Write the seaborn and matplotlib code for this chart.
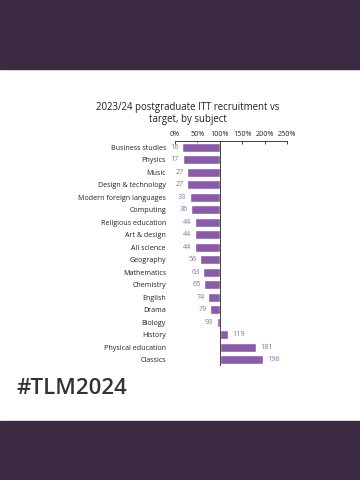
import matplotlib
matplotlib.use("Agg")
import matplotlib.pyplot as plt
from matplotlib.patches import Rectangle
import seaborn as sns
import pandas as pd

subjects = [
    "Business studies", "Physics", "Music", "Design & technology",
    "Modern foreign languages", "Computing", "Religious education",
    "Art & design", "All science", "Geography", "Mathematics", "Chemistry",
    "English", "Drama", "Biology", "History", "Physical education", "Classics",
]
recruitment_pct = [16, 17, 27, 27, 33, 36, 44, 44, 44, 56, 63, 65, 74, 79, 93, 119, 181, 196]
tick_values = [0, 50, 100, 150, 200, 250]
tick_labels = ["0%", "50%", "100%", "150%", "200%", "250%"]

TARGET = 100
BAND = "#3b2a42"
BAR = "#8a5aab"
VALUE_COLOR = "#8a6fa6"
TEXT = "#222222"

sns.set_style("white")
plt.rcParams["font.family"] = ["Open Sans", "DejaVu Sans"]

df = pd.DataFrame({"subject": subjects, "pct": recruitment_pct})
df["gap"] = df["pct"] - TARGET

fig = plt.figure(figsize=(3.6, 4.8), dpi=100)
fig.patch.set_facecolor("white")
fig.patches.append(Rectangle((0, 0.856), 1, 0.144, transform=fig.transFigure,
                             color=BAND, zorder=0))
fig.patches.append(Rectangle((0, 0), 1, 0.123, transform=fig.transFigure,
                             color=BAND, zorder=0))

ax = fig.add_axes([0.486, 0.2375, 0.311, 0.469])
sns.barplot(data=df, x="gap", y="subject", orient="h", color=BAR,
            width=0.72, saturation=1, ax=ax)

ax.set_xlim(tick_values[0] - TARGET, tick_values[-1] - TARGET)
ax.set_xticks([t - TARGET for t in tick_values])
ax.set_xticklabels(tick_labels)
ax.xaxis.tick_top()
ax.tick_params(axis="x", direction="in", length=2.5, width=0.6, pad=2,
               labelsize=5.2, colors=TEXT)
ax.tick_params(axis="y", length=0, pad=6.5, labelsize=5.1, labelcolor=TEXT)
ax.set_xlabel("")
ax.set_ylabel("")

for side in ["left", "right", "bottom"]:
    ax.spines[side].set_visible(False)
ax.spines["top"].set_color(TEXT)
ax.spines["top"].set_linewidth(0.6)
ax.axvline(0, color=TEXT, linewidth=0.6)

for i, (pct, gap) in enumerate(zip(df["pct"], df["gap"])):
    if gap < 0:
        ax.annotate(str(pct), (gap, i), xytext=(-2.5, 0), textcoords="offset points",
                    ha="right", va="center", fontsize=5.2, color=VALUE_COLOR)
    else:
        ax.annotate(str(pct), (gap, i), xytext=(3, 0), textcoords="offset points",
                    ha="left", va="center", fontsize=5.2, color=VALUE_COLOR)

fig.text(0.521, 1 - 113.5 / 480, "2023/24 postgraduate ITT recruitment vs\ntarget, by subject",
         ha="center", va="center", fontsize=6.9, color=TEXT, linespacing=1.1)
fig.text(0.047, 1 - 389 / 480, "#TLM2024", ha="left", va="center",
         fontsize=16, color="#333333", fontweight="semibold")

fig.savefig("out.png", dpi=100)
